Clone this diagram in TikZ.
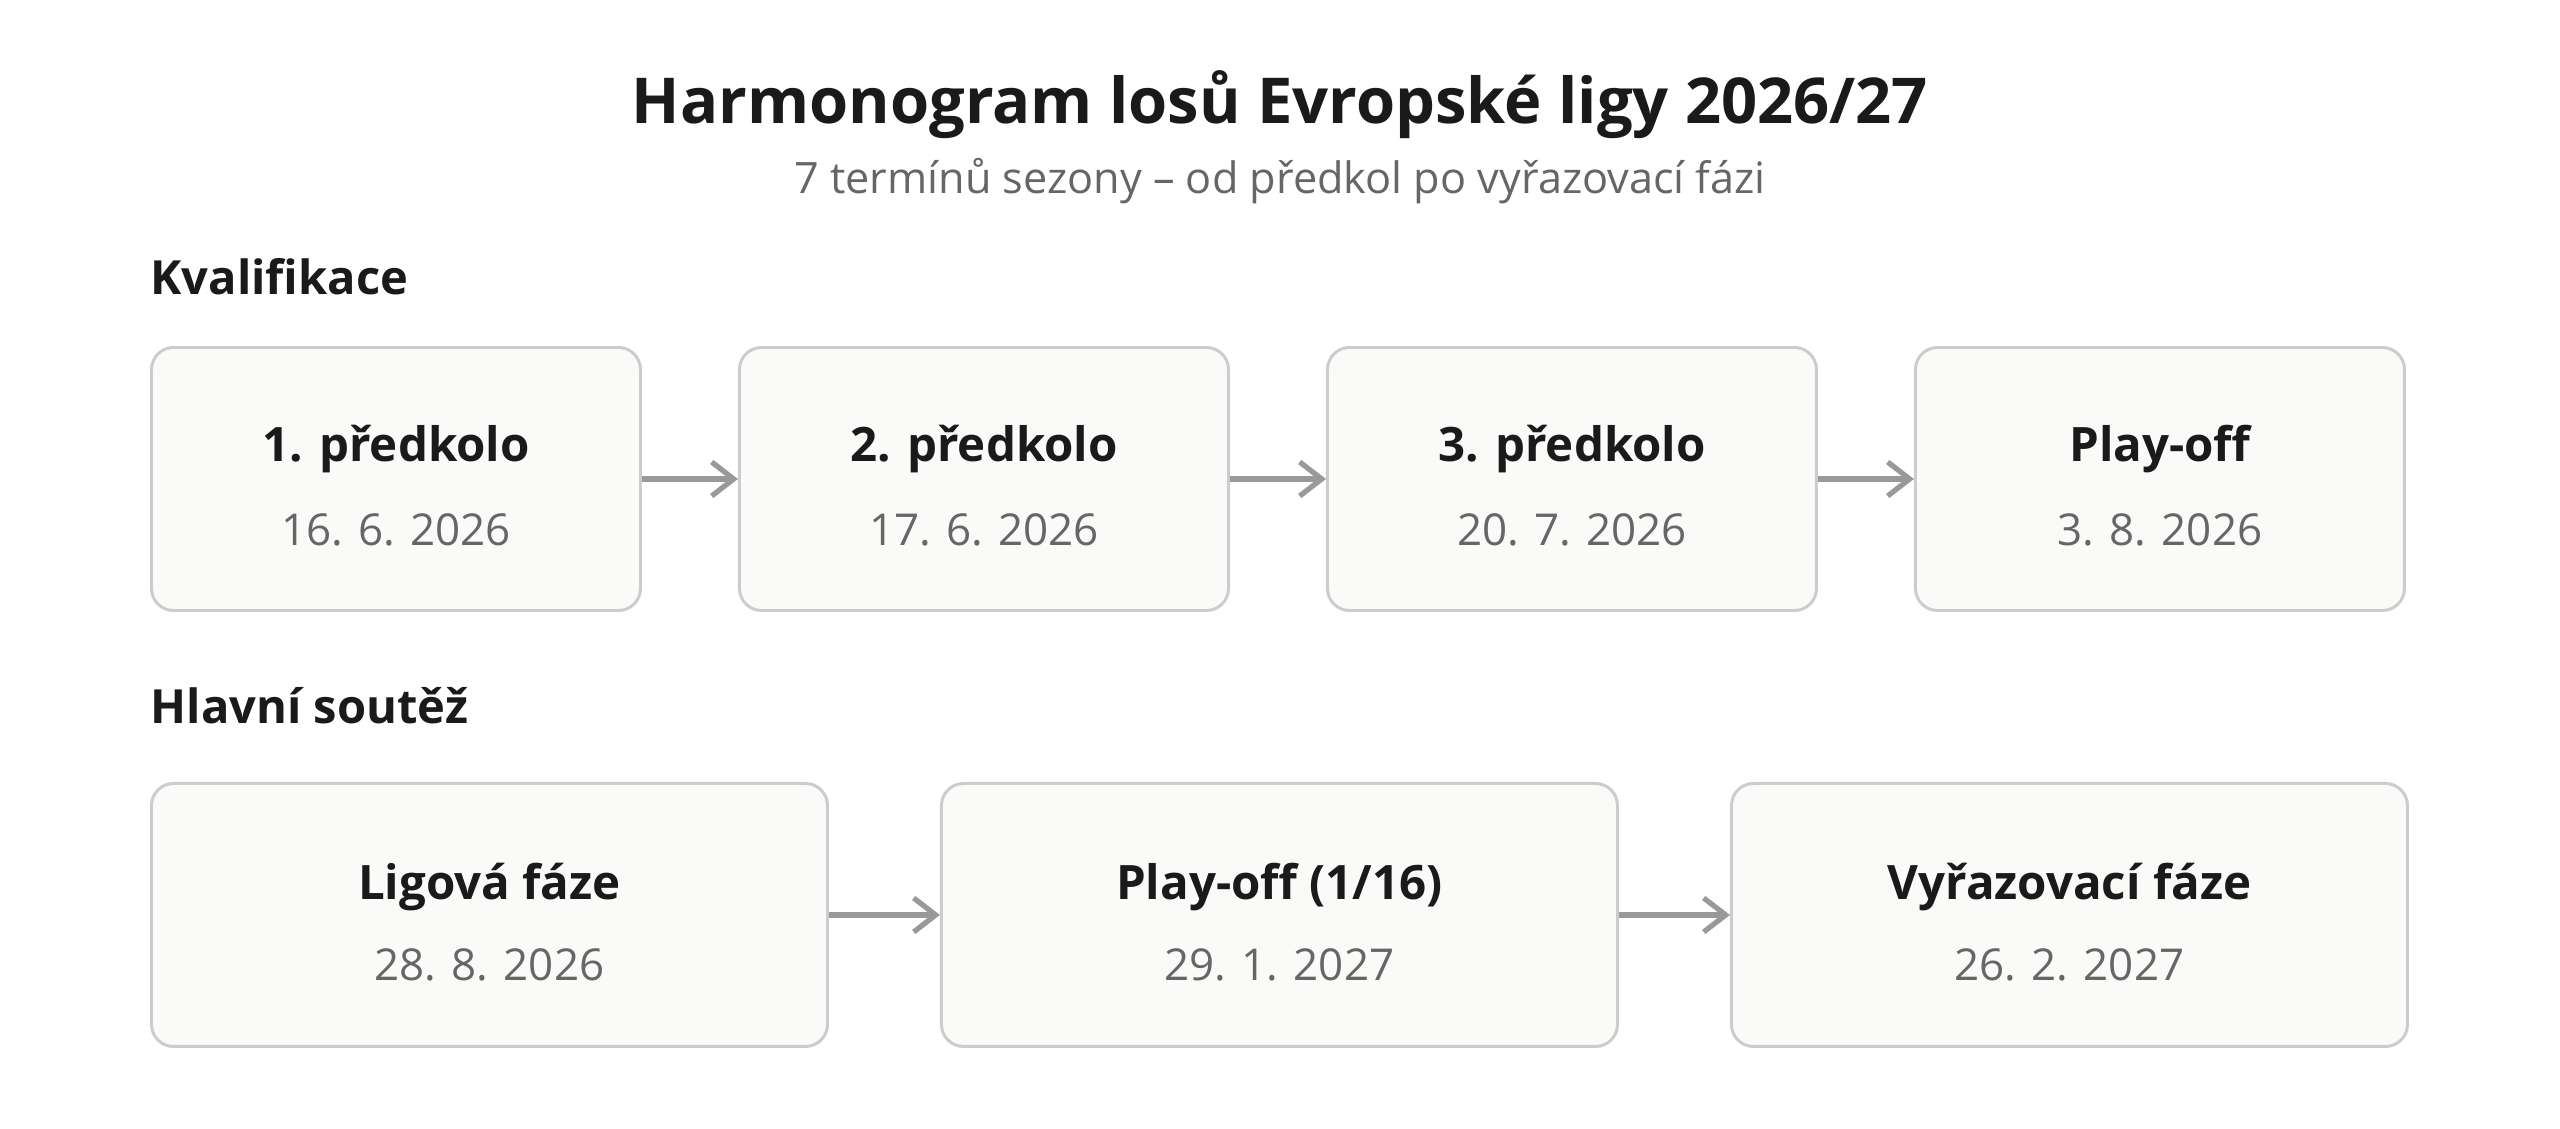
\documentclass[tikz,border=0pt]{standalone}
\usepackage{fontspec}
\setmainfont{Open Sans}
\usetikzlibrary{positioning, arrows.meta}
\definecolor{ink}{HTML}{1A1A1A}
\definecolor{subgray}{HTML}{666666}
\definecolor{boxfill}{HTML}{FAFAF8}
\definecolor{boxline}{HTML}{CCCCCC}
\definecolor{arrowgray}{HTML}{999999}
\tikzstyle{qbox} = [rectangle, rounded corners=0.22cm, minimum width=4.89cm, minimum height=2.63cm, draw=boxline, fill=boxfill, line width=0.85pt]
\tikzstyle{mbox} = [qbox, minimum width=6.76cm]
\tikzstyle{stagename} = [anchor=base, inner sep=0pt, text=ink, font=\bfseries\fontsize{13.5}{17}\selectfont]
\tikzstyle{stagedate} = [anchor=base, inner sep=0pt, text=subgray, font=\fontsize{12.5}{15}\selectfont]
\tikzstyle{section} = [anchor=base west, inner sep=0pt, text=ink, font=\bfseries\fontsize{13.4}{18}\selectfont]
\tikzstyle{arrow} = [line width=1.5pt, draw=arrowgray, -{Straight Barb[length=0.22cm, width=0.34cm]}]

\begin{document}
\begin{tikzpicture}
\useasboundingbox (0,0) rectangle (25.6,-11.29);
% Title
\node (title) [anchor=base, inner sep=0pt, text=ink, font=\bfseries\fontsize{18}{22}\selectfont] at (12.8,-1.24) {Harmonogram losů Evropské ligy 2026/27};
\node (subtitle) [anchor=base, inner sep=0pt, text=subgray, font=\fontsize{12.3}{16}\selectfont] at (12.8,-1.94) {7 termínů sezony – od předkol po vyřazovací fázi};
% Qualification
\node (kval) [section] at (1.5,-2.94) {Kvalifikace};
\node (q1) [qbox, anchor=north west] at (1.5,-3.46) {};
\node (q2) [qbox, right=0.96cm of q1] {};
\node (q3) [qbox, right=0.96cm of q2] {};
\node (q4) [qbox, right=0.96cm of q3] {};
\node (q1name) [stagename] at ([yshift=0.175cm]q1.center) {1. předkolo};
\node (q1date) [stagedate] at ([yshift=-0.665cm]q1.center) {16. 6. 2026};
\node (q2name) [stagename] at ([yshift=0.175cm]q2.center) {2. předkolo};
\node (q2date) [stagedate] at ([yshift=-0.665cm]q2.center) {17. 6. 2026};
\node (q3name) [stagename] at ([yshift=0.175cm]q3.center) {3. předkolo};
\node (q3date) [stagedate] at ([yshift=-0.665cm]q3.center) {20. 7. 2026};
\node (q4name) [stagename] at ([yshift=0.175cm]q4.center) {Play-off};
\node (q4date) [stagedate] at ([yshift=-0.665cm]q4.center) {3. 8. 2026};
% Main competition
\node (hlavni) [section] at (1.5,-7.23) {Hlavní soutěž};
\node (m1) [mbox, below=1.7cm of q1.south west, anchor=north west] {};
\node (m2) [mbox, right=1.11cm of m1] {};
\node (m3) [mbox, right=1.11cm of m2] {};
\node (m1name) [stagename] at ([yshift=0.155cm]m1.center) {Ligová fáze};
\node (m1date) [stagedate] at ([yshift=-0.655cm]m1.center) {28. 8. 2026};
\node (m2name) [stagename] at ([yshift=0.155cm]m2.center) {Play-off (1/16)};
\node (m2date) [stagedate] at ([yshift=-0.655cm]m2.center) {29. 1. 2027};
\node (m3name) [stagename] at ([yshift=0.155cm]m3.center) {Vyřazovací fáze};
\node (m3date) [stagedate] at ([yshift=-0.655cm]m3.center) {26. 2. 2027};
% Arrows
\draw [arrow] (q1) -- (q2);
\draw [arrow] (q2) -- (q3);
\draw [arrow] (q3) -- (q4);
\draw [arrow] (m1) -- (m2);
\draw [arrow] (m2) -- (m3);
\end{tikzpicture}
\end{document}
